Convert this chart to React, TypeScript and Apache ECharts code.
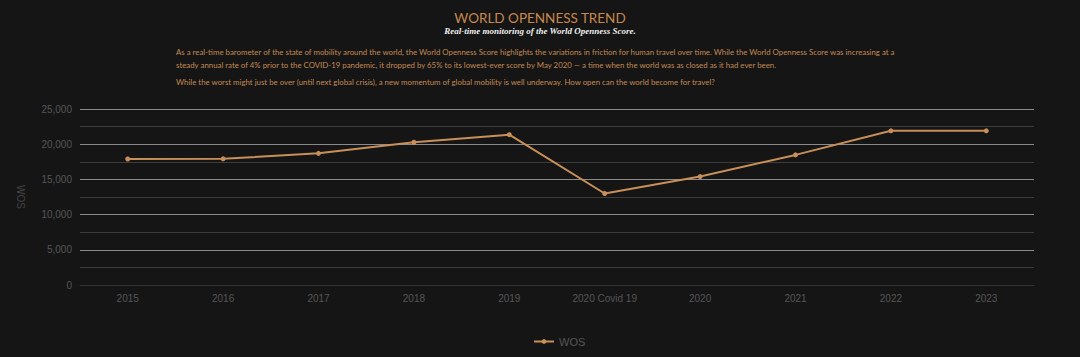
import React, { useEffect, useRef } from "react";
import * as echarts from "echarts";

const categories = ["2015", "2016", "2017", "2018", "2019", "2020 Covid 19", "2020", "2021", "2022", "2023"];
const wosValues = [17900, 17920, 18700, 20280, 21350, 13000, 15400, 18480, 21900, 21900];
const seriesName = "WOS";
const titleText = "WORLD OPENNESS TREND";
const subtitleText = "Real-time monitoring of the World Openness Score.";
const paragraphLines = [
  "As a real-time barometer of the state of mobility around the world, the World Openness Score highlights the variations in friction for human travel over time. While the World Openness Score was increasing at a",
  "steady annual rate of 4% prior to the COVID-19 pandemic, it dropped by 65% to its lowest-ever score by May 2020 \u2014 a time when the world was as closed as it had ever been.",
  "While the worst might just be over (until next global crisis), a new momentum of global mobility is well underway. How open can the world become for travel?",
];

const ORANGE = "#c98f58";
const TEXT_ORANGE = "#c28a54";

export default function App() {
  const ref = useRef<HTMLDivElement>(null);
  useEffect(() => {
    document.body.style.margin = "0";
    document.body.style.background = "#151515";
    const chart = echarts.init(ref.current!, null, { renderer: "svg" });
    chart.setOption({
      animation: false,
      backgroundColor: "#151515",
      title: {
        text: titleText,
        subtext: subtitleText,
        left: "center",
        top: 6,
        itemGap: 1,
        textStyle: { color: "#c8884f", fontSize: 13.5, fontWeight: "normal", fontFamily: "Lato, sans-serif" },
        subtextStyle: { color: "#eeeeee", fontSize: 9, fontStyle: "italic", fontWeight: "bold", fontFamily: "'Liberation Serif', serif" },
      },
      graphic: [
        { type: "text", left: 176, top: 48, style: { text: paragraphLines[0], fill: TEXT_ORANGE, fontSize: 7.85, fontFamily: "Lato, sans-serif" } },
        { type: "text", left: 176, top: 61, style: { text: paragraphLines[1], fill: TEXT_ORANGE, fontSize: 7.85, fontFamily: "Lato, sans-serif" } },
        { type: "text", left: 176, top: 78, style: { text: paragraphLines[2], fill: TEXT_ORANGE, fontSize: 7.85, fontFamily: "Lato, sans-serif" } },
      ],
      legend: {
        bottom: 5,
        left: 528,
        data: [seriesName],
        itemWidth: 20,
        itemHeight: 6,
        itemGap: 10,
        textStyle: { color: "#555555", fontSize: 11 },
      },
      grid: { left: 80, right: 46, top: 109, bottom: 72 },
      xAxis: {
        type: "category",
        data: categories,
        boundaryGap: true,
        axisLine: { lineStyle: { color: "#333333" } },
        axisTick: { show: false },
        axisLabel: { color: "#555555", fontSize: 10, margin: 8 },
      },
      yAxis: {
        type: "value",
        min: 0,
        max: 25000,
        interval: 5000,
        name: seriesName,
        nameLocation: "middle",
        nameRotate: -90,
        nameGap: 55,
        nameTextStyle: { color: "#444444", fontSize: 10 },
        axisLine: { show: false },
        axisTick: { show: false },
        axisLabel: {
          color: "#555555",
          fontSize: 10,
          formatter: (v: number) => v.toLocaleString("en-US"),
        },
        splitLine: { lineStyle: { color: "#8a8a8a", width: 1 } },
        minorTick: { show: false, splitNumber: 2 },
        minorSplitLine: { show: true, lineStyle: { color: "#3c3c3c", width: 1 } },
      },
      series: [
        {
          name: seriesName,
          type: "line",
          data: wosValues,
          symbol: "circle",
          symbolSize: 5,
          lineStyle: { color: ORANGE, width: 2 },
          itemStyle: { color: ORANGE },
        },
      ],
    });
    return () => chart.dispose();
  }, []);
  return <div ref={ref} style={{ width: 1080, height: 357 }} />;
}
